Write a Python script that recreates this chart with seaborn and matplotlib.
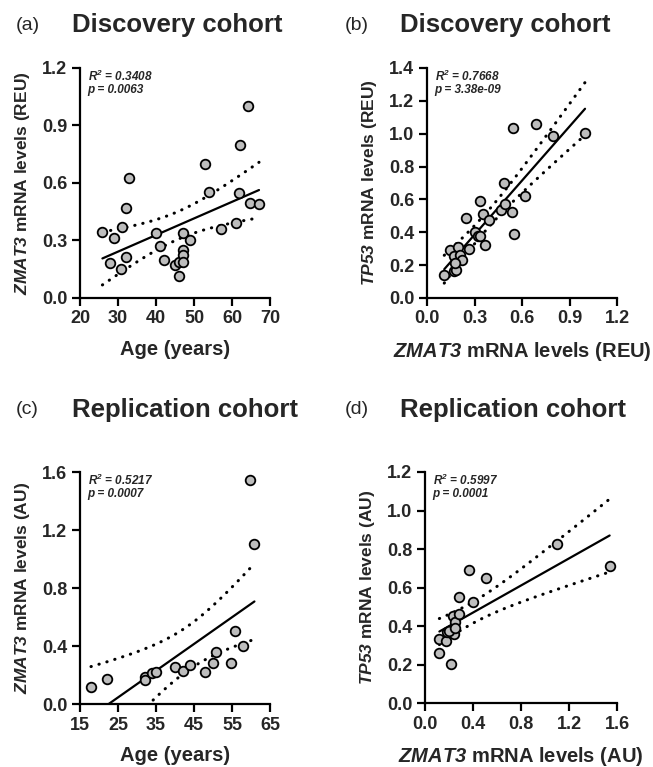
import numpy as np
import matplotlib
matplotlib.use('Agg')
import matplotlib.pyplot as plt
import seaborn as sns

# Panel (a): age vs ZMAT3 (discovery cohort)
age_a = [25.9, 29.0, 27.9, 31.0, 32.0, 33.0, 32.0, 30.9, 40.0, 41.1, 42.1, 45.0, 46.0, 46.1,
         47.0, 47.0, 47.0, 47.0, 48.9, 52.9, 54.0, 57.0, 61.0, 61.9, 62.1, 64.1, 64.8, 67.1]
zmat3_a = [0.345, 0.314, 0.181, 0.371, 0.471, 0.624, 0.216, 0.152, 0.341, 0.271, 0.198, 0.172, 0.19, 0.116,
           0.34, 0.25, 0.224, 0.19, 0.305, 0.698, 0.555, 0.360, 0.393, 0.548, 0.80, 1.0, 0.497, 0.491]

# Panel (b): ZMAT3 vs TP53 (discovery cohort)
zmat3_b = [0.109, 0.143, 0.173, 0.185, 0.194, 0.173, 0.211, 0.219, 0.179, 0.248, 0.265, 0.301, 0.32, 0.337,
           0.337, 0.354, 0.366, 0.392, 0.467, 0.495, 0.484, 0.539, 0.552, 0.621, 0.543, 0.691, 0.796, 0.998]
tp53_b = [0.139, 0.292, 0.167, 0.171, 0.308, 0.256, 0.260, 0.231, 0.211, 0.489, 0.296, 0.400, 0.38, 0.376,
          0.590, 0.513, 0.320, 0.477, 0.533, 0.569, 0.700, 0.521, 0.388, 0.620, 1.037, 1.059, 0.986, 1.006]

# Panel (c): age vs ZMAT3 (replication cohort)
age_c = [17.9, 22.0, 32.0, 32.1, 34.0, 35.1, 39.9, 42.1, 44.0, 47.9, 49.9, 50.9, 54.8, 55.9, 58.0, 59.8, 60.9]
zmat3_c = [0.114, 0.171, 0.185, 0.167, 0.217, 0.222, 0.254, 0.231, 0.267, 0.222, 0.281, 0.361, 0.281, 0.505,
           0.402, 1.547, 1.102]

# Panel (d): ZMAT3 vs TP53 (replication cohort)
zmat3_d = [0.120, 0.120, 0.175, 0.181, 0.214, 0.220, 0.231, 0.242, 0.25, 0.287, 0.284, 0.403, 0.367, 0.509,
           1.099, 1.539, 0.197, 0.25]
tp53_d = [0.336, 0.264, 0.324, 0.368, 0.206, 0.380, 0.454, 0.362, 0.42, 0.463, 0.553, 0.524, 0.692, 0.650,
          0.824, 0.713, 0.377, 0.39]

sns.set_style('ticks')
plt.rcParams['font.family'] = ['Liberation Sans', 'DejaVu Sans']
# all math pieces (gene names, R^2) are bold italic in the figure
plt.rcParams['mathtext.fontset'] = 'custom'
plt.rcParams['mathtext.it'] = 'Liberation Sans:italic:bold'
plt.rcParams['mathtext.rm'] = 'Liberation Sans:italic:bold'
plt.rcParams['mathtext.bf'] = 'Liberation Sans:italic:bold'


def t975(df):
    # Cornish-Fisher approximation of the 97.5% t quantile
    z = 1.959964
    return z + (z**3 + z) / (4 * df) + (5 * z**5 + 16 * z**3 + 3 * z) / (96 * df**2)


def xtl(ticks):
    if all(float(t).is_integer() for t in ticks) and max(ticks) > 5:
        return [f'{int(t)}' for t in ticks]
    return [f'{t:.1f}' for t in ticks]


def draw_panel(ax, x, y, xticks, yticks, xlabel, ylabel, r2, p):
    x = np.asarray(x)
    y = np.asarray(y)
    sns.regplot(x=x, y=y, ax=ax, ci=None, color='#bdbdbd',
                scatter_kws=dict(s=48, edgecolor='black', linewidths=1.3, alpha=1, zorder=3),
                line_kws=dict(color='black', lw=1.6, zorder=2))

    # 95% confidence band of the fit, drawn as dotted lines
    n = len(x)
    slope, inter = np.polyfit(x, y, 1)
    resid = y - (slope * x + inter)
    s = np.sqrt(np.sum(resid**2) / (n - 2))
    sxx = np.sum((x - x.mean())**2)
    xs = np.linspace(x.min(), x.max(), 100)
    fit = slope * xs + inter
    half = t975(n - 2) * s * np.sqrt(1 / n + (xs - x.mean())**2 / sxx)
    for band in (fit + half, fit - half):
        ax.plot(xs, band, color='black', lw=2.2, linestyle=(0, (0.1, 2.6)),
                dash_capstyle='round', zorder=2)

    ax.set_xlim(xticks[0], xticks[-1])
    ax.set_ylim(yticks[0], yticks[-1])
    ax.set_xticks(xticks)
    ax.set_yticks(yticks)
    ax.set_xticklabels(xtl(xticks), fontsize=13, fontweight='bold')
    ax.set_yticklabels([f'{v:.1f}' for v in yticks], fontsize=13, fontweight='bold')
    ax.set_xlabel(xlabel, fontsize=14.5, fontweight='bold', labelpad=9)
    ax.set_ylabel(ylabel, fontsize=12.5, fontweight='bold', labelpad=7)
    sns.despine(ax=ax)
    for sp in ('left', 'bottom'):
        ax.spines[sp].set_linewidth(1.6)
        ax.spines[sp].set_color('black')
    ax.tick_params(length=6, width=1.6, color='black', pad=3)
    ax.text(0.04, 0.965, r2, transform=ax.transAxes, fontsize=8.5, fontweight='bold',
            fontstyle='italic', va='center', ha='left')
    ax.text(0.04, 0.905, p, transform=ax.transAxes, fontsize=8.5, fontweight='bold',
            fontstyle='italic', va='center', ha='left')


fig = plt.figure(figsize=(6.53, 7.67), dpi=100)
ax_a = fig.add_axes([0.1225, 0.6115, 0.2910, 0.2999])
ax_b = fig.add_axes([0.6539, 0.6115, 0.2910, 0.2999])
ax_c = fig.add_axes([0.1225, 0.0821, 0.2910, 0.3025])
ax_d = fig.add_axes([0.6508, 0.0828, 0.2940, 0.3019])

draw_panel(ax_a, age_a, zmat3_a, [20, 30, 40, 50, 60, 70], [0, 0.3, 0.6, 0.9, 1.2],
           'Age (years)', r'$ZMAT3$ mRNA levels (REU)',
           r'R$^2$ = 0.3408', 'p = 0.0063')
draw_panel(ax_b, zmat3_b, tp53_b, [0, 0.3, 0.6, 0.9, 1.2], [0, 0.2, 0.4, 0.6, 0.8, 1.0, 1.2, 1.4],
           r'$ZMAT3$ mRNA levels (REU)', r'$TP53$ mRNA levels (REU)',
           r'R$^2$ = 0.7668', 'p = 3.38e-09')
draw_panel(ax_c, age_c, zmat3_c, [15, 25, 35, 45, 55, 65], [0, 0.4, 0.8, 1.2, 1.6],
           'Age (years)', r'$ZMAT3$ mRNA levels (AU)',
           r'R$^2$ = 0.5217', 'p = 0.0007')
draw_panel(ax_d, zmat3_d, tp53_d, [0, 0.4, 0.8, 1.2, 1.6], [0, 0.2, 0.4, 0.6, 0.8, 1.0, 1.2],
           r'$ZMAT3$ mRNA levels (AU)', r'$TP53$ mRNA levels (AU)',
           r'R$^2$ = 0.5997', 'p = 0.0001')

# panel letters and titles (pixel positions converted to figure fractions)
W, H = 653, 767
for letter, lx, tx, ty, title in [('(a)', 16, 72, 25, 'Discovery cohort'),
                                   ('(b)', 345, 400, 25, 'Discovery cohort'),
                                   ('(c)', 16, 72, 410, 'Replication cohort'),
                                   ('(d)', 345, 400, 410, 'Replication cohort')]:
    fig.text(lx / W, 1 - ty / H, letter, fontsize=14, ha='left', va='center')
    fig.text(tx / W, 1 - ty / H, title, fontsize=18.5, fontweight='bold', ha='left', va='center')

fig.savefig('out.png', dpi=100)
